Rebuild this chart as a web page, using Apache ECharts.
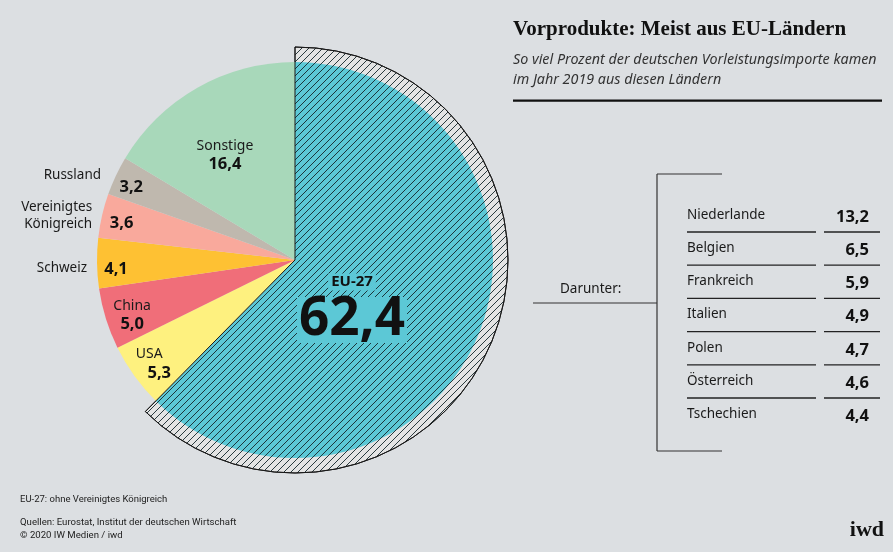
<!DOCTYPE html>
<html><head><meta charset="utf-8">
<script src="https://cdn.jsdelivr.net/npm/echarts@6/dist/echarts.min.js"></script>
<style>html,body{margin:0;padding:0;background:#dcdfe2}#c{width:893px;height:552px}</style>
</head><body><div id="c"></div>
<script>
// ---- data ----
const sliceNames = ['EU-27','USA','China','Schweiz','Vereinigtes Königreich','Russland','Sonstige'];
const sliceLabels = ['EU-27','USA','China','Schweiz','Vereinigtes\nKönigreich','Russland','Sonstige'];
const sliceValues = [62.4, 5.3, 5.0, 4.1, 3.6, 3.2, 16.4];
const sliceColors = ['#5cc8d6','#fef17f','#f06e79','#fec133','#f9a99c','#bfb8ae','#a8d8ba'];
const subNames = ['Niederlande','Belgien','Frankreich','Italien','Polen','Österreich','Tschechien'];
const subValues = [13.2, 6.5, 5.9, 4.9, 4.7, 4.6, 4.4];

// ---- style (label nudges in px, [dx, dy]) ----
const labelShift = [[0,0],[1,-2],[10,2],[2,6],[3,4],[0,4],[-7,7]];
const outShift   = [[0,0],[0,0],[0,0],[0,5],[0,1],[-5,0],[0,0]];

const fmt = v => v.toFixed(1).replace('.', ',');
const SANS = '"Noto Sans", "Open Sans", sans-serif';

function shiftPad(s){
  const dx = s[0], dy = s[1];
  return [Math.max(2*dy,0), Math.max(-2*dx,0), Math.max(-2*dy,0), Math.max(2*dx,0)];
}

function hatch(bg){
  const s = 7, c = document.createElement('canvas');
  c.width = c.height = s;
  const g = c.getContext('2d');
  g.fillStyle = bg; g.fillRect(0,0,s,s);
  g.strokeStyle = '#15262a'; g.lineWidth = 0.9;
  g.beginPath();
  g.moveTo(0,s); g.lineTo(s,0);
  g.moveTo(-1,1); g.lineTo(1,-1);
  g.moveTo(s-1,s+1); g.lineTo(s+1,s-1);
  g.stroke();
  return {image: c, repeat: 'repeat'};
}

const CENTER = [295, 260];
const R = 198, R_OUT = 213;

const mainData = sliceNames.map((n,i)=>({
  name: n, value: sliceValues[i],
  itemStyle: {color: i===0 ? hatch(sliceColors[0]) : sliceColors[i]}
}));
const ringData = sliceNames.map((n,i)=>({
  name: n, value: sliceValues[i],
  itemStyle: i===0 ? {color: hatch('#e4e4e4'), borderColor:'#1a1a1a', borderWidth:1}
                   : {color:'rgba(0,0,0,0)', borderWidth:0}
}));
const ringBorderData = sliceNames.map((n,i)=>({
  name: n, value: sliceValues[i],
  itemStyle: i===0 ? {color:'rgba(0,0,0,0)', borderColor:'#1a1a1a', borderWidth:1}
                   : {color:'rgba(0,0,0,0)', borderWidth:0}
}));

const inValueIdx = {1:true,2:true,3:true,4:true,5:true};
const twoLine = {1:true,2:true};
const ringLabelData = sliceNames.map((n,i)=>({
  name: n, value: sliceValues[i],
  label: {show: !!inValueIdx[i], padding: shiftPad(labelShift[i]),
    formatter: twoLine[i]
      ? '{n|'+sliceLabels[i]+'}\n{'+(i===1?'vs':'v')+'|'+fmt(sliceValues[i])+'}'
      : '{v|'+fmt(sliceValues[i])+'}'}
}));
const sonstLabelData = sliceNames.map((n,i)=>({
  name: n, value: sliceValues[i],
  label: {show: i===6, padding: shiftPad(labelShift[i]),
    formatter: '{n|'+sliceLabels[i]+'}\n{v|'+fmt(sliceValues[i])+'}'}
}));
const outLabelData = sliceNames.map((n,i)=>({
  name: n, value: sliceValues[i],
  label: {show: (i===3||i===4||i===5), formatter: sliceLabels[i]}
}));

const rich = {
  n: {fontFamily: SANS, fontSize: 14, color:'#1a1a1a', lineHeight: 18},
  v: {fontFamily: SANS, fontSize: 16.5, fontWeight:'bold', color:'#111', lineHeight: 20},
  vs: {fontFamily: SANS, fontSize: 16.5, fontWeight:'bold', color:'#111', lineHeight: 20, padding:[0,0,0,20]}
};
const transparent = {color:'rgba(0,0,0,0)', borderWidth:0};
const baseLabelSeries = {
  type:'pie', center: CENTER, startAngle: 90, clockwise: true, silent: true,
  avoidLabelOverlap: false, emphasis:{disabled:true}, labelLine:{show:false},
  itemStyle: transparent, z: 10
};

const graphics = [];
graphics.push({type:'text', left: 513, top: 19, style:{text:'Vorprodukte: Meist aus EU-Ländern', font:'bold 21px "Liberation Serif", serif', fill:'#111'}});
graphics.push({type:'text', left: 513, top: 50, style:{text:'So viel Prozent der deutschen Vorleistungsimporte kamen\nim Jahr 2019 aus diesen Ländern', font:'italic 14.3px '+SANS, fill:'#333', lineHeight: 20}});
graphics.push({type:'rect', shape:{x:513, y:99.5, width:369, height:2.2}, style:{fill:'#111'}});

const lineStyle = {stroke:'#333', lineWidth:1.2};
graphics.push({type:'line', shape:{x1:657, y1:174, x2:657, y2:451}, style: lineStyle});
graphics.push({type:'line', shape:{x1:657, y1:174, x2:722, y2:174}, style: lineStyle});
graphics.push({type:'line', shape:{x1:657, y1:451, x2:722, y2:451}, style: lineStyle});
graphics.push({type:'line', shape:{x1:533, y1:303, x2:657, y2:303}, style: lineStyle});
graphics.push({type:'text', x:560, y:289, style:{text:'Darunter:', font:'13.5px '+SANS, fill:'#1a1a1a', verticalAlign:'middle'}});

const rowTop = 215, rowStep = 33.2;
subNames.forEach((n,i)=>{
  const y = rowTop + i*rowStep;
  graphics.push({type:'text', x:687, y:y, style:{text:n, font:'13.5px '+SANS, fill:'#1a1a1a', verticalAlign:'middle'}});
  graphics.push({type:'text', x:869, y:y+2, style:{text:fmt(subValues[i]), font:'bold 16.5px '+SANS, fill:'#111', align:'right', verticalAlign:'middle'}});
  if (i < subNames.length-1) {
    graphics.push({type:'line', shape:{x1:687, y1:y+17, x2:816, y2:y+17}, style:{stroke:'#222', lineWidth:1.3}});
    graphics.push({type:'line', shape:{x1:824, y1:y+17, x2:880, y2:y+17}, style:{stroke:'#222', lineWidth:1.3}});
  }
});

graphics.push({type:'text', x:352, y:282, z:100, style:{text: sliceNames[0], font:'bold 15px '+SANS, fill:'#111', align:'center', verticalAlign:'middle', backgroundColor: sliceColors[0], padding:[1,3,1,3]}});
graphics.push({type:'text', x:352, y:320, z:100, style:{text: fmt(sliceValues[0]), font:'bold 53px '+SANS, fill:'#111', align:'center', verticalAlign:'middle', backgroundColor: sliceColors[0], padding:[0,2,0,2], lineHeight: 46}});

graphics.push({type:'text', x:20, y:500, style:{text:'EU-27: ohne Vereinigtes Königreich', font:'9.5px Roboto, sans-serif', fill:'#222', verticalAlign:'middle'}});
graphics.push({type:'text', x:20, y:523, style:{text:'Quellen: Eurostat, Institut der deutschen Wirtschaft', font:'9.6px Roboto, sans-serif', fill:'#222', verticalAlign:'middle'}});
graphics.push({type:'text', x:20, y:536, style:{text:'© 2020 IW Medien / iwd', font:'9.6px Roboto, sans-serif', fill:'#222', verticalAlign:'middle'}});
graphics.push({type:'text', x:884, y:530, style:{text:'iwd', font:'bold 22px "Liberation Serif", serif', fill:'#111', align:'right', verticalAlign:'middle'}});

const chart = echarts.init(document.getElementById('c'), null, {renderer:'canvas'});
chart.setOption({
  animation: false,
  backgroundColor: '#dcdfe2',
  series: [
    {type:'pie', center: CENTER, radius:[0, R_OUT], startAngle:90, clockwise:true, silent:true,
     label:{show:false}, labelLine:{show:false}, emphasis:{disabled:true}, data: ringData, z:1},
    {type:'pie', center: CENTER, radius:[0, R], startAngle:90, clockwise:true, silent:true,
     label:{show:false}, labelLine:{show:false}, emphasis:{disabled:true}, data: mainData, z:2},
    {type:'pie', center: CENTER, radius:[0, R_OUT], startAngle:90, clockwise:true, silent:true,
     label:{show:false}, labelLine:{show:false}, emphasis:{disabled:true}, data: ringBorderData, z:3},
    Object.assign({}, baseLabelSeries, {radius:[156, 200], data: ringLabelData,
      label:{position:'inside', rich: rich, color:'#111'}}),
    Object.assign({}, baseLabelSeries, {radius:[50, 200], data: sonstLabelData,
      label:{position:'inside', rich: rich, color:'#111'}}),
    Object.assign({}, baseLabelSeries, {radius:[0, R], data: outLabelData,
      labelLine:{show:false, length:2, length2:3},
      labelLayout: p => ({dx: outShift[p.dataIndex][0], dy: outShift[p.dataIndex][1]}),
      label:{position:'outside', fontFamily: SANS, fontSize:13.5, color:'#1a1a1a', lineHeight:17, distanceToLabelLine:5}})
  ],
  graphic: graphics
});
</script></body></html>
